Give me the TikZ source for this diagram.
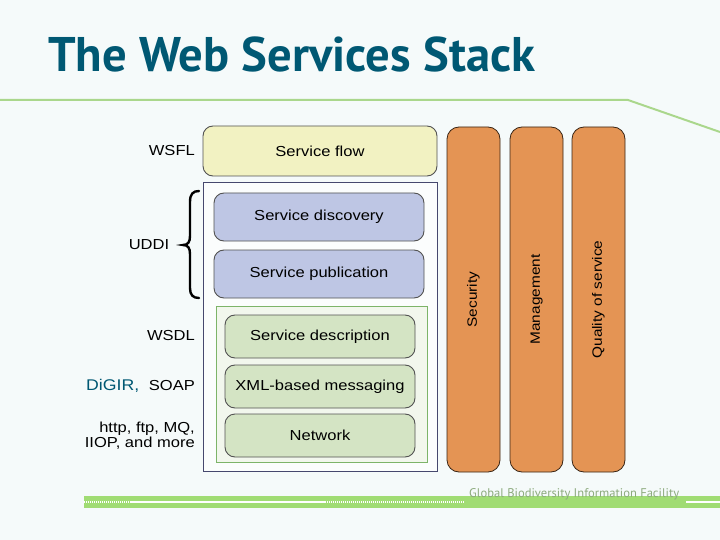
\documentclass[tikz,border=0pt]{standalone}
\usepackage{fontspec}
\setmainfont[FakeStretch=1.14]{Liberation Sans}
\newfontfamily\titlefont{PT Sans}
\definecolor{bgc}{RGB}{245,250,250}
\definecolor{titlec}{RGB}{0,88,115}
\definecolor{lgreen}{RGB}{170,215,140}
\definecolor{bandc}{RGB}{160,220,115}
\definecolor{flowc}{RGB}{242,242,194}
\definecolor{bluec}{RGB}{190,198,228}
\definecolor{greenc}{RGB}{212,228,196}
\definecolor{orangec}{RGB}{228,148,84}
\definecolor{framec}{RGB}{70,72,110}
\definecolor{gframec}{RGB}{125,180,105}
\definecolor{footc}{RGB}{140,170,125}
\tikzset{
  layer/.style={draw=black!68, line width=0.9pt, rounded corners=10pt, font=\fontsize{14.5}{17}\selectfont, inner sep=0pt},
  pillar/.style={draw=black!75!orangec, line width=0.8pt, fill=orangec, rounded corners=12pt, minimum width=53pt, minimum height=345pt, inner sep=0pt},
  vlabel/.style={rotate=90, font=\fontsize{13.5}{15}\selectfont},
  lbl/.style={font=\fontsize{14.5}{17}\selectfont, inner sep=0pt},
  bracestroke/.style={draw=black, line width=2.4pt, line cap=round},
}
\begin{document}
\begin{tikzpicture}[x=1pt,y=-1pt]
\fill[bgc] (0,0) rectangle (720,540);
\useasboundingbox (0,0) rectangle (720,540);
% title
\node[anchor=base west, inner sep=0pt, text=titlec] (title) at (48,72) {\resizebox{487pt}{!}{\titlefont\bfseries The Web Services Stack}};
\coordinate (l0) at (0,100);
\coordinate (l1) at (628,100);
\coordinate (l2) at (720,132);
\draw[lgreen, line width=2pt] (l0) -- (l1) -- (l2);
% frames
\node[draw=framec, line width=1pt, fill=white!60!bgc, minimum width=234pt, minimum height=288pt, inner sep=0pt] (outer) at (320,327) {};
\node[draw=gframec, line width=1pt, fill=greenc!30!white, minimum width=211pt, minimum height=156pt, inner sep=0pt] (gframe) at (321.5,384) {};
% layers
\node[layer, fill=flowc, minimum width=234pt, minimum height=50pt] (flow) at (320,151) {Service flow};
\node[layer, fill=bluec, minimum width=210pt, minimum height=48pt] (disc) at (319,217) {Service discovery};
\node[layer, fill=bluec, minimum width=210pt, minimum height=48pt] (pub) at (319,274) {Service publication};
\node[layer, fill=greenc, minimum width=190pt, minimum height=43pt] (desc) at (320,336.5) {Service description};
\node[layer, fill=greenc, minimum width=190pt, minimum height=43pt] (xml) at (320,386.5) {XML-based messaging};
\node[layer, fill=greenc, minimum width=190pt, minimum height=43pt] (net) at (320,435.5) {Network};
% pillars
\node[pillar] (sec) at (473.5,299.5) {};
\node[vlabel] (secl) at (sec.center) {Security};
\node[pillar] (man) at (536.5,299.5) {};
\node[vlabel] (manl) at (man.center) {Management};
\node[pillar] (qos) at (598.5,299.5) {};
\node[vlabel] (qosl) at (qos.center) {Quality of service};
% left labels
\node[lbl, anchor=east] (wsfl) at (195,151) {WSFL};
\draw[bracestroke] (199,191) .. controls (193,191) and (190,194) .. (190,202) -- (190,236) .. controls (190,242) and (188,245) .. (183,245) .. controls (188,245) and (190,248) .. (190,254) -- (190,288) .. controls (190,295) and (193,298) .. (199,298);
\node[lbl] (uddi) at (149,245) {UDDI};
\node[lbl, anchor=east] (wsdl) at (195,336) {WSDL};
\node[lbl, anchor=east] (soap) at (195,386) {SOAP};
\node[lbl, anchor=west, text=titlec, font=\fontsize{15.5}{18}\selectfont] (digir) at (86,386) {DiGIR,};
\node[lbl, anchor=east, align=right, font=\fontsize{14.5}{15}\selectfont] (http) at (195,435.5) {http, ftp, MQ,\\IIOP, and more};
% footer
\fill[bandc] (84,496) rectangle (720,508);
\draw[white, line width=1.5pt, dash pattern=on 1pt off 1pt] (84,502) -- (130,502);
\draw[white, line width=1.5pt] (130,502) -- (325,502);
\draw[white, line width=1.5pt, dash pattern=on 1pt off 1pt] (325,502) -- (465,502);
\draw[white, line width=1.5pt] (686,502) -- (720,502);
\node[anchor=base west, inner sep=0pt, text=footc] (foot) at (469,497) {\resizebox{210pt}{!}{\titlefont Global Biodiversity Information Facility}};
\end{tikzpicture}
\end{document}
